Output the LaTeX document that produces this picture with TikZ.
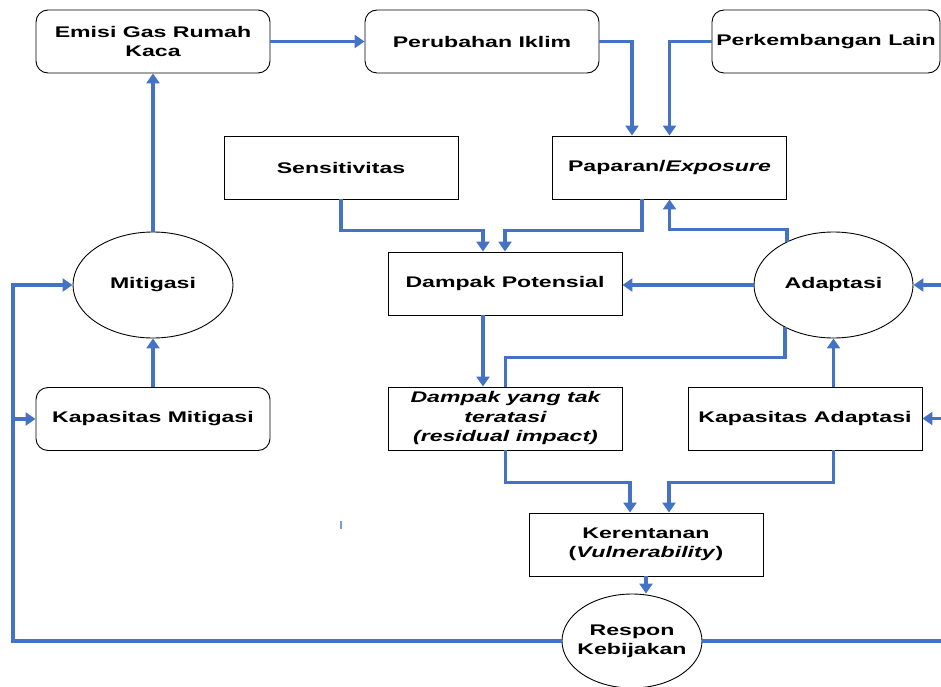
\documentclass[tikz,border=0pt]{standalone}
\usepackage{fontspec}
\setmainfont{Liberation Sans}[FakeStretch=1.5]
\usetikzlibrary{arrows.meta,shapes.geometric}
\definecolor{lineblue}{RGB}{68,114,196}
\begin{document}
\begin{tikzpicture}[x=1pt,y=-1pt,
  conn/.style={draw=lineblue,line width=3.5pt},
  arr/.style={conn,-{Triangle[length=10pt,width=13pt]}},
  txt/.style={font=\fontsize{15.4pt}{19pt}\selectfont\bfseries,align=center,inner sep=0pt},
  box/.style={txt,draw,line width=0.9pt,minimum width=234pt,minimum height=63pt},
  rbox/.style={box,rounded corners=12pt},
  ell/.style={txt,draw,ellipse,line width=0.9pt}]
\useasboundingbox (0,0) rectangle (941,687);
% nodes
\node[rbox] (emisi) at (153,41.5) {Emisi Gas Rumah\\Kaca};
\node[rbox] (perub) at (482,41.5) {Perubahan Iklim};
\node[rbox,minimum width=228pt] (perk) at (826,41.5) {Perkembangan Lain};
\node[box] (sens) at (341,167.5) {Sensitivitas};
\node[box] (papar) at (669.5,167.5) {Paparan/\textit{Exposure}};
\node[box] (dp) at (505,283.5) {Dampak Potensial};
\node[ell,minimum width=159pt,minimum height=106pt] (adapt) at (833.5,285) {Adaptasi};
\node[ell,minimum width=160pt,minimum height=106pt] (mitig) at (153,285) {Mitigasi};
\node[rbox] (kapm) at (153,419) {Kapasitas Mitigasi};
\node[box,font=\fontsize{15.4pt}{19.5pt}\selectfont\bfseries\itshape] (dyt) at (505.5,418.5) {Dampak yang tak\\teratasi\\(residual impact)};
\node[box] (ka) at (805,418.5) {Kapasitas Adaptasi};
\node[box] (ker) at (646,544.5) {Kerentanan\\(\textit{Vulnerability})};
\node[ell,inner xsep=-6pt,minimum width=140pt,minimum height=94pt] (resp) at (632,641) {Respon\\Kebijakan};
\coordinate (lft) at (13,641);
\coordinate (rgt) at (941,641);
% connectors
\draw[arr] (emisi.east) -- (perub.west);
\draw[arr] (perub.east) -| ([xshift=-37.5pt]papar.north);
\draw[arr] (perk.west) -| (papar.north);
\draw[arr] (sens.south) -- ++(0,31) -| ([xshift=-22pt]dp.north);
\draw[arr] ([xshift=-27.5pt]papar.south) -- ++(0,31) -| (dp.north);
\draw[arr] (adapt.137) -- ++(0,-12) -| (papar.south);
\draw[arr] (adapt.west) -- (adapt.west -| dp.east);
\draw[arr] ([xshift=-22pt]dp.south) -- ([xshift=-22.5pt]dyt.north);
\draw[conn] (adapt.221) -- ++(0,30) -| (dyt.north);
\draw[arr] (adapt.south |- ka.north) -- (adapt.south);
\draw[arr] (dyt.south) -- ++(0,32) -| ([xshift=-16pt]ker.north);
\draw[arr] (adapt.south |- ka.south) -- ++(0,32) -| ([xshift=23pt]ker.north);
\draw[arr] (ker.south) -- (ker.south |- resp.north);
\draw[arr] (resp.west) -- (lft) |- (mitig.west);
\draw[arr] (lft |- kapm.west) -- (kapm.west);
\draw[conn] (resp.east) -- (rgt);
\draw[arr] (rgt |- adapt.east) -- (adapt.east);
\draw[arr] (rgt |- ka.east) -- (ka.east);
\draw[arr] (kapm.north) -- (mitig.south);
\draw[arr] (mitig.north) -- (emisi.south);
\draw[lineblue!70,line width=1.5pt] (341,521) -- (341,529);
\end{tikzpicture}
\end{document}
